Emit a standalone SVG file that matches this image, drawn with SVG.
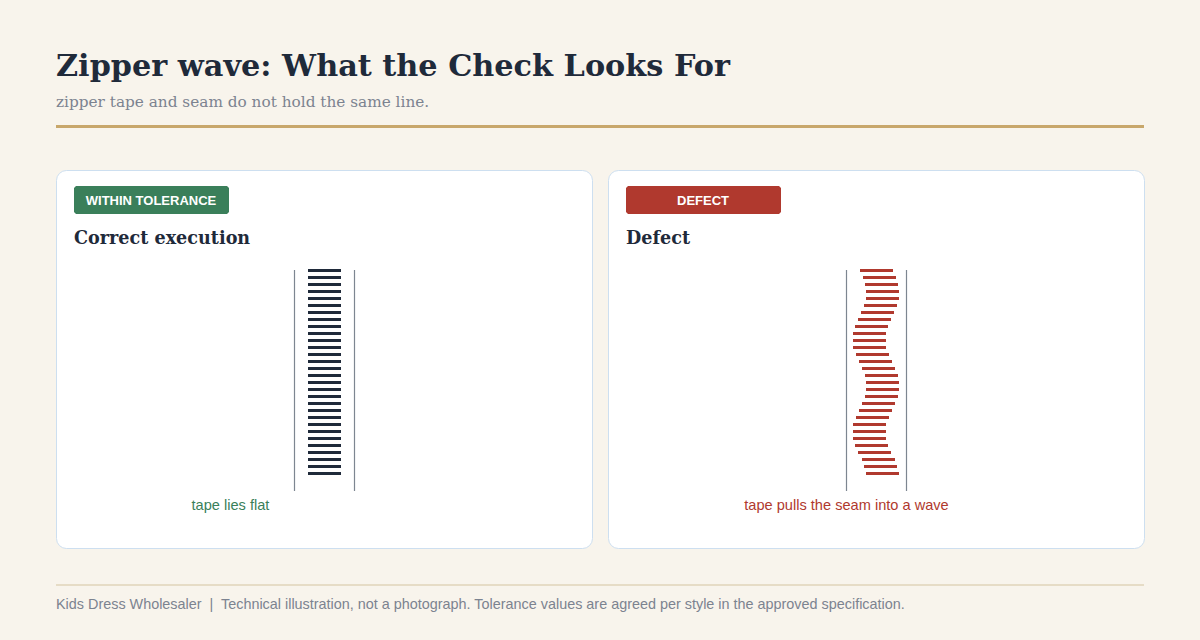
<svg xmlns="http://www.w3.org/2000/svg" width="1200" height="640" viewBox="0 0 1200 640">
<style>
.serif{font-family:Georgia,"DejaVu Serif","Liberation Serif",serif}
.sans{font-family:"Liberation Sans",Arial,sans-serif}
.panel{fill:#ffffff;stroke:#cddff0;stroke-width:1}
.rail{stroke:#7d8691;stroke-width:1.2}
.ok rect{fill:#1f2a3a}
.bad rect{fill:#b0392e}
.badge{font-family:"Liberation Sans",Arial,sans-serif;font-size:13px;font-weight:bold;fill:#ffffff;text-anchor:middle}
.head{font-family:Georgia,"DejaVu Serif",serif;font-size:17.6px;font-weight:bold;fill:#1f2a3a}
</style>
<rect width="1200" height="640" fill="#f8f4ec"/>
<text class="serif" x="56" y="76" font-size="30.3" font-weight="bold" fill="#1f2a3a">Zipper wave: What the Check Looks For</text>
<text class="serif" x="56" y="107" font-size="15.3" fill="#7c8390">zipper tape and seam do not hold the same line.</text>
<line x1="56" y1="126.5" x2="1144" y2="126.5" stroke="#c8a76b" stroke-width="3"/>

<g id="panel-ok">
<rect class="panel" x="56.5" y="170.5" width="536" height="378" rx="10"/>
<polygon points="76,186 227,186 229,188 229,212 227,214 76,214 74,212 74,188" fill="#3a7f5a"/>
<text class="badge" x="151" y="205">WITHIN TOLERANCE</text>
<text class="head" x="74" y="244">Correct execution</text>
<line class="rail" x1="294.5" y1="270" x2="294.5" y2="491"/>
<line class="rail" x1="354.5" y1="270" x2="354.5" y2="491"/>
<g class="ok">
<rect x="308" y="269" width="33" height="3"/><rect x="308" y="276" width="33" height="3"/><rect x="308" y="283" width="33" height="3"/><rect x="308" y="290" width="33" height="3"/><rect x="308" y="297" width="33" height="3"/>
<rect x="308" y="304" width="33" height="3"/><rect x="308" y="311" width="33" height="3"/><rect x="308" y="318" width="33" height="3"/><rect x="308" y="325" width="33" height="3"/><rect x="308" y="332" width="33" height="3"/>
<rect x="308" y="339" width="33" height="3"/><rect x="308" y="346" width="33" height="3"/><rect x="308" y="353" width="33" height="3"/><rect x="308" y="360" width="33" height="3"/><rect x="308" y="367" width="33" height="3"/>
<rect x="308" y="374" width="33" height="3"/><rect x="308" y="381" width="33" height="3"/><rect x="308" y="388" width="33" height="3"/><rect x="308" y="395" width="33" height="3"/><rect x="308" y="402" width="33" height="3"/>
<rect x="308" y="409" width="33" height="3"/><rect x="308" y="416" width="33" height="3"/><rect x="308" y="423" width="33" height="3"/><rect x="308" y="430" width="33" height="3"/><rect x="308" y="437" width="33" height="3"/>
<rect x="308" y="444" width="33" height="3"/><rect x="308" y="451" width="33" height="3"/><rect x="308" y="458" width="33" height="3"/><rect x="308" y="465" width="33" height="3"/><rect x="308" y="472" width="33" height="3"/>
</g>
<text class="sans" x="230.5" y="510" font-size="14.6" fill="#3a7f5a" text-anchor="middle">tape lies flat</text>
</g>

<g id="panel-defect">
<rect class="panel" x="608.5" y="170.5" width="536" height="378" rx="10"/>
<polygon points="628,186 779,186 781,188 781,212 779,214 628,214 626,212 626,188" fill="#b0392e"/>
<text class="badge" x="703" y="205">DEFECT</text>
<text class="head" x="626" y="244">Defect</text>
<line class="rail" x1="846.5" y1="270" x2="846.5" y2="491"/>
<line class="rail" x1="906.5" y1="270" x2="906.5" y2="491"/>
<g class="bad">
<rect x="860" y="269" width="33" height="3"/><rect x="863" y="276" width="33" height="3"/><rect x="865" y="283" width="33" height="3"/><rect x="866" y="290" width="33" height="3"/><rect x="866" y="297" width="33" height="3"/>
<rect x="864" y="304" width="33" height="3"/><rect x="861" y="311" width="33" height="3"/><rect x="858" y="318" width="33" height="3"/><rect x="855" y="325" width="33" height="3"/><rect x="853" y="332" width="33" height="3"/>
<rect x="853" y="339" width="33" height="3"/><rect x="853" y="346" width="33" height="3"/><rect x="856" y="353" width="33" height="3"/><rect x="859" y="360" width="33" height="3"/><rect x="862" y="367" width="33" height="3"/>
<rect x="865" y="374" width="33" height="3"/><rect x="866" y="381" width="33" height="3"/><rect x="866" y="388" width="33" height="3"/><rect x="865" y="395" width="33" height="3"/><rect x="862" y="402" width="33" height="3"/>
<rect x="859" y="409" width="33" height="3"/><rect x="856" y="416" width="33" height="3"/><rect x="853" y="423" width="33" height="3"/><rect x="853" y="430" width="33" height="3"/><rect x="853" y="437" width="33" height="3"/>
<rect x="855" y="444" width="33" height="3"/><rect x="858" y="451" width="33" height="3"/><rect x="862" y="458" width="33" height="3"/><rect x="864" y="465" width="33" height="3"/><rect x="866" y="472" width="33" height="3"/>
</g>
<text class="sans" x="846.5" y="510" font-size="14.6" fill="#b0392e" text-anchor="middle">tape pulls the seam into a wave</text>
</g>

<line x1="56" y1="585" x2="1144" y2="585" stroke="#e6dcc6" stroke-width="2"/>
<text class="sans" x="56" y="609" font-size="14.4" fill="#7c8390">Kids Dress Wholesaler &#160;|&#160; Technical illustration, not a photograph. Tolerance values are agreed per style in the approved specification.</text>
</svg>
